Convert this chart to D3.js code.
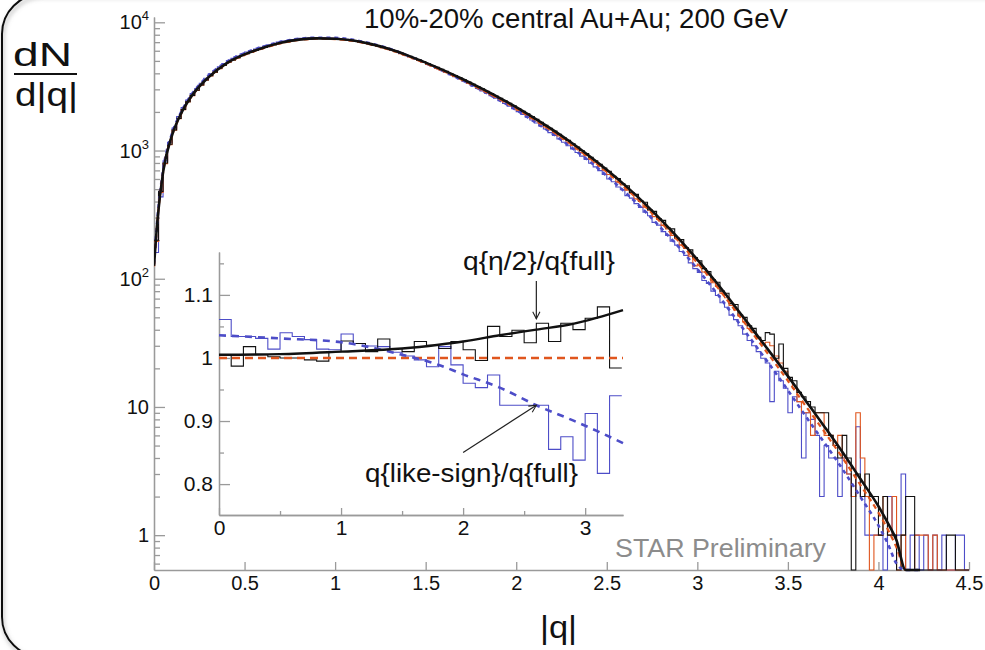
<!DOCTYPE html>
<html>
<head>
<meta charset="utf-8">
<script src="https://cdn.jsdelivr.net/npm/d3@7"></script>
<style>
  body { margin: 0; background: #fff; }
  svg { display: block; }
  text { font-family: "Liberation Sans", Arial, Helvetica, sans-serif; }
</style>
</head>
<body>
<div id="container"></div>
<script>
let w = 985;
let h = 650;

// ---- main histograms, |q| bins of 0.025 from 0 to 4.5 ----
let binWidth = 0.025;

let histBlack = [
  200, 480, 800, 1120, 1450, 1780, 2090, 2400, 2690, 2950,
  3240, 3550, 3840, 4080, 4360, 4630, 4880, 5080, 5300, 5510,
  5700, 5870, 6040, 6220, 6380, 6530, 6680, 6840, 6970, 7060,
  7180, 7280, 7350, 7390, 7430, 7480, 7500, 7480, 7460, 7450,
  7410, 7360, 7300, 7240, 7160, 7030, 6920, 6820, 6670, 6550,
  6400, 6260, 6110, 5930, 5770, 5600, 5430, 5260, 5090, 4930,
  4760, 4610, 4450, 4300, 4140, 3990, 3840, 3700, 3560, 3420,
  3280, 3160, 3030, 2900, 2780, 2660, 2550, 2440, 2330, 2230,
  2120, 2020, 1930, 1840, 1750, 1660, 1570, 1490, 1420, 1340,
  1265, 1200, 1130, 1065, 1000, 945, 887, 832, 780, 731,
  690, 630, 605, 550, 530, 470, 455, 405, 395, 345,
  335, 295, 285, 250, 245, 208, 202, 175, 168, 146,
  138, 120, 114, 98, 94, 80, 77, 64, 63, 52,
  50, 43, 41, 35, 33, 38, 37, 24, 31, 20,
  17, 16, 13, 12, 11, 10, 9, 9, 9, 6,
  5, 4, 6, 4, 0, 3, 2, 3, 2, 2,
  1, 2, 1, 1, 0, 1, 2, 2, 0, 0,
  0, 0, 0, 0, 0, 1, 1, 0, 0, 0
];

let histOrange = [
  195, 470, 790, 1110, 1440, 1770, 2080, 2390, 2680, 2940,
  3230, 3530, 3820, 4070, 4350, 4610, 4860, 5060, 5280, 5490,
  5680, 5850, 6020, 6200, 6360, 6510, 6660, 6810, 6940, 7030,
  7150, 7250, 7320, 7360, 7400, 7450, 7470, 7450, 7430, 7420,
  7370, 7320, 7260, 7200, 7120, 6990, 6880, 6780, 6600, 6470,
  6320, 6190, 6035, 5860, 5700, 5530, 5365, 5195, 5030, 4870,
  4695, 4545, 4380, 4230, 4080, 3930, 3780, 3645, 3500, 3370,
  3220, 3100, 2970, 2845, 2730, 2610, 2500, 2390, 2280, 2180,
  2065, 1970, 1875, 1785, 1700, 1610, 1530, 1450, 1375, 1300,
  1222, 1157, 1092, 1028, 968, 912, 857, 804, 754, 706,
  650, 620, 565, 540, 490, 465, 420, 400, 362, 342,
  305, 290, 260, 245, 218, 205, 183, 172, 150, 126,
  130, 113, 107, 93, 87, 77, 71, 62, 57, 51,
  46, 41, 38, 34, 31, 32, 30, 25, 22, 19,
  16, 14, 11, 9, 9, 6, 9, 9, 6, 6,
  5, 6, 4, 3, 2, 9, 4, 2, 0, 1,
  1, 2, 1, 2, 0, 1, 0, 0, 1, 1,
  1, 0, 1, 0, 0, 0, 0, 0, 0, 0
];

let histBlue = [
  160, 435, 830, 1160, 1500, 1840, 2160, 2480, 2780, 3050,
  3350, 3660, 3960, 4200, 4490, 4770, 5020, 5230, 5450, 5660,
  5860, 6030, 6200, 6380, 6540, 6690, 6840, 7000, 7130, 7210,
  7330, 7430, 7490, 7530, 7560, 7610, 7620, 7590, 7560, 7540,
  7490, 7430, 7360, 7290, 7200, 7060, 6950, 6840, 6720, 6560,
  6400, 6260, 6100, 5920, 5750, 5580, 5400, 5230, 5060, 4900,
  4720, 4560, 4390, 4230, 4070, 3910, 3760, 3610, 3470, 3330,
  3180, 3050, 2920, 2800, 2680, 2560, 2450, 2330, 2220, 2120,
  2010, 1910, 1820, 1730, 1640, 1550, 1470, 1380, 1310, 1230,
  1160, 1090, 1030, 965, 905, 850, 795, 745, 697, 650,
  600, 570, 520, 495, 445, 425, 385, 360, 330, 310,
  275, 262, 233, 218, 196, 183, 163, 152, 133, 120,
  112, 97, 92, 80, 74, 65, 60, 52, 48, 43,
  37, 33, 30, 27, 24, 22, 11, 19, 16, 14,
  9, 12, 11, 4, 9, 8, 6, 2, 5, 4,
  4, 2, 4, 3, 2, 7, 2, 1, 1, 1,
  1, 0, 2, 1, 1, 3, 0, 1, 1, 0,
  1, 0, 1, 0, 1, 0, 0, 1, 1, 0
];

// ---- main fit curves ----
let fitQ = [0, 0.02, 0.05, 0.1, 0.15, 0.2,
  0.3, 0.4, 0.5, 0.6, 0.7, 0.8, 0.9, 1.0, 1.1, 1.2, 1.3, 1.4, 1.5,
  1.6, 1.7, 1.8, 1.9, 2.0, 2.1, 2.2, 2.3, 2.4, 2.5, 2.6, 2.7, 2.8, 2.9,
  3.0, 3.1, 3.2, 3.3, 3.4, 3.5, 3.6, 3.7, 3.8, 3.9, 4.0,
  4.05, 4.1, 4.15, 4.23];
let fitBlack = [126, 295, 676, 1320, 1950, 2570,
  3720, 4790, 5620, 6310, 6920, 7330, 7500, 7450, 7210, 6760, 6190, 5520, 4850,
  4220, 3630, 3090, 2610, 2180, 1790, 1455, 1165, 916, 708, 537, 398, 288, 204,
  141, 95.5, 63, 41.2, 26.9, 17.4, 11.1, 7.08, 4.47, 2.75, 1.68,
  1.26, 0.91, 0.52, 0.4];
let fitOrange = [125, 292, 670, 1310, 1935, 2550,
  3690, 4755, 5580, 6265, 6870, 7275, 7445, 7395, 7155, 6705, 6130, 5450, 4780,
  4150, 3565, 3025, 2550, 2125, 1740, 1410, 1125, 882, 680, 514, 380, 274, 194,
  133, 89.8, 58.9, 38.3, 24.9, 16.0, 10.1, 6.44, 4.04, 2.47, 1.5,
  1.12, 0.8, 0.45, 0.4];
let fitBlue = [130, 305, 700, 1365, 2000, 2640,
  3830, 4915, 5750, 6440, 7040, 7430, 7580, 7560, 7300, 6820, 6220, 5500, 4800,
  4150, 3550, 2990, 2500, 2070, 1680, 1355, 1070, 833, 635, 475, 348, 248, 175,
  119, 79.5, 51.5, 33.1, 21.3, 13.5, 8.4, 5.3, 3.3, 1.99, 1.19,
  0.87, 0.6, 0.4, 0.4];

// ---- inset: ratios, bins of 0.1 ----
let insetBinWidth = 0.1;
let ratioEta = [1.005, 0.987, 1.018, 1.005, 1.002, 1.0, 1.0, 0.997, 0.995, 1.01,
  1.027, 1.023, 1.01, 1.03, 1.015, 1.01, 1.026, 1.02, 1.015, 1.026,
  1.013, 0.996, 1.05, 1.034, 1.044, 1.024, 1.055, 1.026, 1.055, 1.045,
  1.063, 1.081, 0.984];
let ratioLike = [1.061, 1.034, 1.034, 1.031, 1.014, 1.04, 1.034, 1.029, 1.014, 1.013,
  1.038, 1.023, 1.019, 1.018, 1.009, 1.003, 0.997, 0.986, 1.018, 0.989,
  0.96, 0.953, 0.973, 0.925, 0.925, 0.925, 0.925, 0.855, 0.875, 0.838,
  0.912, 0.817, 0.94];
let insetFitQ = [0, 0.5, 1.0, 1.5, 1.8, 2.0, 2.3, 2.6, 2.9, 3.1, 3.31];
let insetFitEta = [1.005, 1.006, 1.01, 1.015, 1.021, 1.026, 1.036, 1.045, 1.054, 1.064, 1.076];
let insetFitLike = [1.036, 1.031, 1.025, 1.005, 0.989, 0.974, 0.953, 0.925, 0.901, 0.884, 0.865];
let insetFitFullQ = [0, 3.31];
let insetFitFull = [1, 1];

// ---- ticks / labels ----
let xTicks = [0, 0.5, 1, 1.5, 2, 2.5, 3, 3.5, 4, 4.5];
let xTickLabels = ["0", "0.5", "1", "1.5", "2", "2.5", "3", "3.5", "4", "4.5"];
let yTicks = [1, 10, 100, 1000, 10000];
let yTickBase = ["1", "10", "10", "10", "10"];
let yTickExp = ["", "", "2", "3", "4"];
let insetXTicks = [0, 1, 2, 3];
let insetXLabels = ["0", "1", "2", "3"];
let insetYTicks = [0.8, 0.9, 1, 1.1];
let insetYLabels = ["0.8", "0.9", "1", "1.1"];

let colBlack = "#111";
let colOrange = "#e0561e";
let colBlue = "#4d4dc8";
let axisGrey = "#9a9a9a";

let viz = d3.select("#container")
  .append("svg")
    .attr("width", w)
    .attr("height", h)
    .style("background-color", "white");

// frame with shadow
let defs = viz.append("defs");
let shadow = defs.append("filter").attr("id", "shadow")
  .attr("x", "-5%").attr("y", "-5%").attr("width", "110%").attr("height", "110%");
shadow.append("feDropShadow").attr("dx", 1).attr("dy", 3).attr("stdDeviation", 2)
  .attr("flood-color", "#777").attr("flood-opacity", 0.6);

viz.append("rect")
  .attr("x", 2).attr("y", -6).attr("width", 1100).attr("height", 663)
  .attr("rx", 40).attr("ry", 40)
  .attr("fill", "none").attr("stroke", "#111").attr("stroke-width", 2)
  .attr("filter", "url(#shadow)");

// arrow marker
defs.append("marker").attr("id", "arrow")
  .attr("viewBox", "0 0 10 10").attr("refX", 9).attr("refY", 5)
  .attr("markerWidth", 9).attr("markerHeight", 9).attr("orient", "auto")
  .attr("markerUnits", "userSpaceOnUse")
  .append("path").attr("d", "M1,1 L9,5 L1,9")
  .attr("fill", "none").attr("stroke", "#222").attr("stroke-width", 1.2);

// ===== main plot =====
let yMin = 0.535;
let yMax = 11000;
let xScale = d3.scaleLinear().domain([0, 4.5]).range([154, 969]);
let yScale = d3.scaleLog().domain([yMin, yMax]).range([570, 17]);

defs.append("clipPath").attr("id", "mainclip")
  .append("rect").attr("x", 154).attr("y", 10).attr("width", 820).attr("height", 562);

function yClamp(v){
  return yScale(Math.max(v, yMin));
}

function histPoints(values, width){
  let pts = values.map(function(v, i){ return [i * width, v]; });
  pts.push([values.length * width, values[values.length - 1]]);
  return pts;
}

let histLine = d3.line()
  .x(function(d){ return xScale(d[0]); })
  .y(function(d){ return yClamp(d[1]); })
  .curve(d3.curveStepAfter);

let fitLine = d3.line()
  .x(function(d){ return xScale(d[0]); })
  .y(function(d){ return yClamp(d[1]); })
  .curve(d3.curveMonotoneX);

// axes
let xAxis = d3.axisBottom(xScale)
  .tickValues(xTicks)
  .tickSizeInner(-8).tickSizeOuter(0).tickPadding(6)
  .tickFormat(function(d, i){ return xTickLabels[i]; });
let xAxisGroup = viz.append("g").attr("class", "xaxis")
  .attr("transform", "translate(0, 570)")
  .call(xAxis);

let minorY = [];
[0.1, 1, 10, 100, 1000].forEach(function(dec){
  for (let m = 2; m <= 9; m++) {
    let v = dec * m;
    if (v >= yMin && v <= yMax) minorY.push(v);
  }
});
let yMinorGroup = viz.append("g").attr("transform", "translate(154, 0)")
  .call(d3.axisLeft(yScale).tickValues(minorY).tickSizeInner(-6).tickSizeOuter(0).tickFormat(""));
let yAxisGroup = viz.append("g").attr("class", "yaxis")
  .attr("transform", "translate(154, 0)")
  .call(d3.axisLeft(yScale).tickValues(yTicks).tickSizeInner(-11).tickSizeOuter(0).tickFormat(""));

[xAxisGroup, yMinorGroup, yAxisGroup].forEach(function(g){
  g.selectAll("path, line").attr("stroke", axisGrey).attr("stroke-width", 1.3);
});
xAxisGroup.selectAll("text")
  .attr("font-size", 20).attr("fill", "#111")
  .attr("font-family", "'Liberation Sans', Arial, sans-serif");

yTicks.forEach(function(v, i){
  let t = viz.append("text")
    .attr("x", 149).attr("y", yScale(v) + 7)
    .attr("text-anchor", "end")
    .attr("font-size", 20).attr("fill", "#111")
    .text(yTickBase[i]);
  if (yTickExp[i] !== "") {
    t.append("tspan").attr("dy", -9).attr("font-size", 13).text(yTickExp[i]);
  }
});

// histograms and fits
let mainPlot = viz.append("g").attr("clip-path", "url(#mainclip)");

mainPlot.append("path").datum(histPoints(histBlue, binWidth))
  .attr("d", histLine).attr("fill", "none").attr("stroke", colBlue).attr("stroke-width", 1.1);
mainPlot.append("path").datum(histPoints(histOrange, binWidth))
  .attr("d", histLine).attr("fill", "none").attr("stroke", colOrange).attr("stroke-width", 1.1);
mainPlot.append("path").datum(histPoints(histBlack, binWidth))
  .attr("d", histLine).attr("fill", "none").attr("stroke", colBlack).attr("stroke-width", 1.1);

mainPlot.append("path").datum(fitQ.map(function(q, i){ return [q, fitBlue[i]]; }))
  .attr("d", fitLine).attr("fill", "none").attr("stroke", colBlue)
  .attr("stroke-width", 2.6).attr("stroke-dasharray", "4,4");
mainPlot.append("path").datum(fitQ.map(function(q, i){ return [q, fitOrange[i]]; }))
  .attr("d", fitLine).attr("fill", "none").attr("stroke", colOrange)
  .attr("stroke-width", 2.2).attr("stroke-dasharray", "5,4");
mainPlot.append("path").datum(fitQ.map(function(q, i){ return [q, fitBlack[i]]; }))
  .attr("d", fitLine).attr("fill", "none").attr("stroke", colBlack)
  .attr("stroke-width", 2.6);

// ===== inset =====
let xi = d3.scaleLinear().domain([0, 3.31]).range([219, 623]);
let yi = d3.scaleLinear().domain([0.751, 1.168]).range([515, 252]);

let insetG = viz.append("g");
let iyMinor = insetG.append("g").attr("transform", "translate(219, 0)")
  .call(d3.axisLeft(yi).tickValues([0.85, 0.95, 1.05, 1.15]).tickSizeInner(-5).tickSizeOuter(0).tickFormat(""));
let iyMajor = insetG.append("g").attr("transform", "translate(219, 0)")
  .call(d3.axisLeft(yi).tickValues(insetYTicks).tickSizeInner(-11).tickSizeOuter(0).tickPadding(6)
    .tickFormat(function(d, i){ return insetYLabels[i]; }));
let ixMinor = insetG.append("g").attr("transform", "translate(0, 515)")
  .call(d3.axisBottom(xi).tickValues([0.5, 1.5, 2.5]).tickSizeInner(-4).tickSizeOuter(0).tickFormat(""));
let ixMajor = insetG.append("g").attr("transform", "translate(0, 515)")
  .call(d3.axisBottom(xi).tickValues(insetXTicks).tickSizeInner(-7).tickSizeOuter(0).tickPadding(5)
    .tickFormat(function(d, i){ return insetXLabels[i]; }));

[iyMinor, iyMajor, ixMinor, ixMajor].forEach(function(g){
  g.selectAll("path, line").attr("stroke", axisGrey).attr("stroke-width", 1.3);
  g.selectAll("text").attr("font-size", 21).attr("fill", "#111")
    .attr("font-family", "'Liberation Sans', Arial, sans-serif");
});

let insetHist = d3.line()
  .x(function(d){ return xi(d[0]); })
  .y(function(d){ return yi(d[1]); })
  .curve(d3.curveStepAfter);
let insetFit = d3.line()
  .x(function(d){ return xi(d[0]); })
  .y(function(d){ return yi(d[1]); })
  .curve(d3.curveMonotoneX);

insetG.append("path").datum(histPoints(ratioLike, insetBinWidth))
  .attr("d", insetHist).attr("fill", "none").attr("stroke", colBlue).attr("stroke-width", 1.1);
insetG.append("path").datum(histPoints(ratioEta, insetBinWidth))
  .attr("d", insetHist).attr("fill", "none").attr("stroke", colBlack).attr("stroke-width", 1.1);

insetG.append("path").datum(insetFitFullQ.map(function(q, i){ return [q, insetFitFull[i]]; }))
  .attr("d", insetFit).attr("fill", "none").attr("stroke", colOrange)
  .attr("stroke-width", 2.6).attr("stroke-dasharray", "8,5");
insetG.append("path").datum(insetFitQ.map(function(q, i){ return [q, insetFitLike[i]]; }))
  .attr("d", insetFit).attr("fill", "none").attr("stroke", colBlue)
  .attr("stroke-width", 2.6).attr("stroke-dasharray", "7,6");
insetG.append("path").datum(insetFitQ.map(function(q, i){ return [q, insetFitEta[i]]; }))
  .attr("d", insetFit).attr("fill", "none").attr("stroke", colBlack)
  .attr("stroke-width", 2.4);

// annotations
insetG.append("line")
  .attr("x1", xi(2.6)).attr("y1", yi(1.122)).attr("x2", xi(2.6)).attr("y2", yi(1.062))
  .attr("stroke", "#222").attr("stroke-width", 1.2).attr("marker-end", "url(#arrow)");
insetG.append("line")
  .attr("x1", xi(2.0)).attr("y1", yi(0.85)).attr("x2", xi(2.6)).attr("y2", yi(0.925))
  .attr("stroke", "#222").attr("stroke-width", 1.2).attr("marker-end", "url(#arrow)");

insetG.append("text").attr("x", 463).attr("y", 270)
  .attr("font-size", 26).attr("fill", "#111")
  .attr("textLength", 152).attr("lengthAdjust", "spacingAndGlyphs")
  .text("q{η/2}/q{full}");
insetG.append("text").attr("x", 365).attr("y", 482)
  .attr("font-size", 26).attr("fill", "#111")
  .attr("textLength", 213).attr("lengthAdjust", "spacingAndGlyphs")
  .text("q{like-sign}/q{full}");

// ===== titles and labels =====
viz.append("text").attr("x", 364).attr("y", 28)
  .attr("font-size", 27).attr("fill", "#111")
  .attr("textLength", 424).attr("lengthAdjust", "spacingAndGlyphs")
  .text("10%-20% central Au+Au; 200 GeV");

viz.append("text").attr("x", 615).attr("y", 557)
  .attr("font-size", 26).attr("fill", "#8c8c8c")
  .attr("textLength", 211).attr("lengthAdjust", "spacingAndGlyphs")
  .text("STAR Preliminary");

viz.append("text").attr("x", 13).attr("y", 66)
  .attr("font-size", 34).attr("fill", "#111")
  .attr("textLength", 59).attr("lengthAdjust", "spacingAndGlyphs")
  .text("dN");
viz.append("line").attr("x1", 14).attr("x2", 77).attr("y1", 74).attr("y2", 74)
  .attr("stroke", "#111").attr("stroke-width", 2);
viz.append("text").attr("x", 15).attr("y", 106)
  .attr("font-size", 34).attr("fill", "#111")
  .attr("textLength", 63).attr("lengthAdjust", "spacingAndGlyphs")
  .text("d|q|");

viz.append("text").attr("x", 540).attr("y", 638)
  .attr("font-size", 32).attr("fill", "#111")
  .attr("textLength", 37).attr("lengthAdjust", "spacingAndGlyphs")
  .text("|q|");
</script>
</body>
</html>
